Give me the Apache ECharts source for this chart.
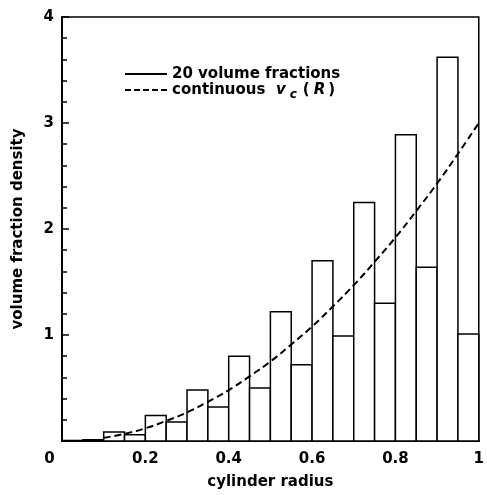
<!DOCTYPE html>
<html>
<head>
<meta charset="utf-8">
<script src="https://cdn.jsdelivr.net/npm/echarts@6/dist/echarts.min.js"></script>
<style>html,body{margin:0;padding:0;background:#fff}#c{width:487px;height:495px}</style>
</head>
<body>
<div id="c"></div>
<script>
// Histogram bins: lower edge, upper edge
var binStart = [0,0.05,0.1,0.15,0.2,0.25,0.3,0.35,0.4,0.45,0.5,0.55,0.6,0.65,0.7,0.75,0.8,0.85,0.9,0.95];
var binEnd   = [0.05,0.1,0.15,0.2,0.25,0.3,0.35,0.4,0.45,0.5,0.55,0.6,0.65,0.7,0.75,0.8,0.85,0.9,0.95,1.0];
var binHeight = [0.005,0.012,0.085,0.06,0.24,0.18,0.48,0.32,0.80,0.50,1.22,0.72,1.70,0.99,2.25,1.30,2.89,1.64,3.62,1.01];
// Continuous curve
var curveR = [0.1,0.15,0.2,0.25,0.3,0.35,0.4,0.45,0.5,0.55,0.6,0.65,0.7,0.75,0.8,0.85,0.9,0.95,1.0];
var curveV = [0.03,0.068,0.12,0.19,0.27,0.37,0.48,0.61,0.75,0.91,1.08,1.27,1.47,1.69,1.92,2.17,2.43,2.71,3.0];
var xTicks = [0,0.2,0.4,0.6,0.8,1];
var yTicks = [0,1,2,3,4];

var chart = echarts.init(document.getElementById('c'));
var font = 'DejaVu Sans, Liberation Sans, Arial, sans-serif';
chart.setOption({
  backgroundColor: '#fff',
  animation: false,
  grid: {left: 62, right: 4, top: 17, bottom: 52, show: true, borderColor: '#000', borderWidth: 1.5, backgroundColor: 'transparent'},
  legend: {
    orient: 'vertical', left: 120, top: 61, itemGap: 0, itemWidth: 42, itemHeight: 2,
    textStyle: {fontFamily: font, fontSize: 15, fontWeight: 'bold', color: '#000', lineHeight: 16,
      rich: {
        b: {fontFamily: font, fontSize: 15, fontWeight: 'bold', color: '#000'},
        p: {fontFamily: font, fontSize: 15, fontWeight: 'bold', color: '#000', padding: [0, 2, 0, 3]},
        i: {fontFamily: font, fontSize: 15, fontWeight: 'bold', fontStyle: 'italic', color: '#000'},
        r: {fontFamily: font, fontSize: 15, fontWeight: 'bold', fontStyle: 'italic', color: '#000', padding: [0, 3, 0, 2]},
        s: {fontFamily: font, fontSize: 12, fontWeight: 'bold', fontStyle: 'italic', color: '#000', padding: [9, 3, 0, 4]}
      }},
    data: [
      {name: '20 volume fractions', icon: 'path://M0,0H42V2H0Z', itemStyle: {color: '#000', borderWidth: 0}},
      {name: 'continuous', icon: 'path://M0,0H6V2H0Z M9,0H15V2H9Z M18,0H24V2H18Z M27,0H33V2H27Z M36,0H42V2H36Z', itemStyle: {color: '#000', borderWidth: 0}}
    ],
    formatter: function (n) {
      if (n === 'continuous') return '{b|continuous  }{i|v}{s|c}{p|(}{r|R}{b|)}';
      return n;
    }
  },
  xAxis: {
    type: 'value', min: 0, max: 1, interval: 0.2,
    name: 'cylinder radius', nameLocation: 'middle', nameGap: 34,
    nameTextStyle: {fontFamily: font, fontSize: 15, fontWeight: 'bold', color: '#000'},
    axisLine: {show: true, lineStyle: {color: '#000', width: 2}},
    axisTick: {show: false},
    splitLine: {show: false},
    axisLabel: {
      margin: 11, fontFamily: font, fontSize: 15, fontWeight: 'bold', color: '#000',
      formatter: function (v) {
        var t = xTicks.indexOf(Math.round(v * 10) / 10) >= 0 ? String(Math.round(v * 10) / 10) : '';
        if (v === 0) return '{z|0}';
        return t;
      },
      rich: {z: {fontFamily: font, fontSize: 15, fontWeight: 'bold', color: '#000', padding: [0, 25, 0, 0]}}
    }
  },
  yAxis: {
    type: 'value', min: 0, max: 4, interval: 1,
    name: 'volume fraction density', nameLocation: 'middle', nameGap: 36,
    nameTextStyle: {fontFamily: font, fontSize: 15, fontWeight: 'bold', color: '#000'},
    axisLine: {show: true, lineStyle: {color: '#000', width: 2}},
    axisTick: {show: true, inside: true, length: 7, lineStyle: {color: '#000', width: 1.5}},
    minorTick: {show: true, splitNumber: 5, length: 5, lineStyle: {color: '#000', width: 1.5}},
    splitLine: {show: false},
    axisLabel: {
      margin: 8, fontFamily: font, fontSize: 15, fontWeight: 'bold', color: '#000',
      formatter: function (v) { return v === 0 ? '' : String(yTicks[yTicks.indexOf(v)]); }
    }
  },
  series: [
    {
      name: '20 volume fractions', type: 'custom',
      data: binHeight.map(function (h, i) { return [binStart[i], binEnd[i], h]; }),
      encode: {x: [0, 1], y: 2},
      renderItem: function (params, api) {
        var p0 = api.coord([api.value(0), api.value(2)]);
        var p1 = api.coord([api.value(1), 0]);
        return {
          type: 'rect',
          shape: {x: p0[0], y: p0[1], width: p1[0] - p0[0], height: p1[1] - p0[1]},
          style: {fill: '#fff', stroke: '#000', lineWidth: 1.5}
        };
      },
      z: 2
    },
    {
      name: 'continuous', type: 'line', smooth: true, symbol: 'none',
      data: curveR.map(function (r, i) { return [r, curveV[i]]; }),
      lineStyle: {color: '#000', width: 2, type: [7, 4]},
      z: 3
    }
  ]
});
</script>
</body>
</html>
